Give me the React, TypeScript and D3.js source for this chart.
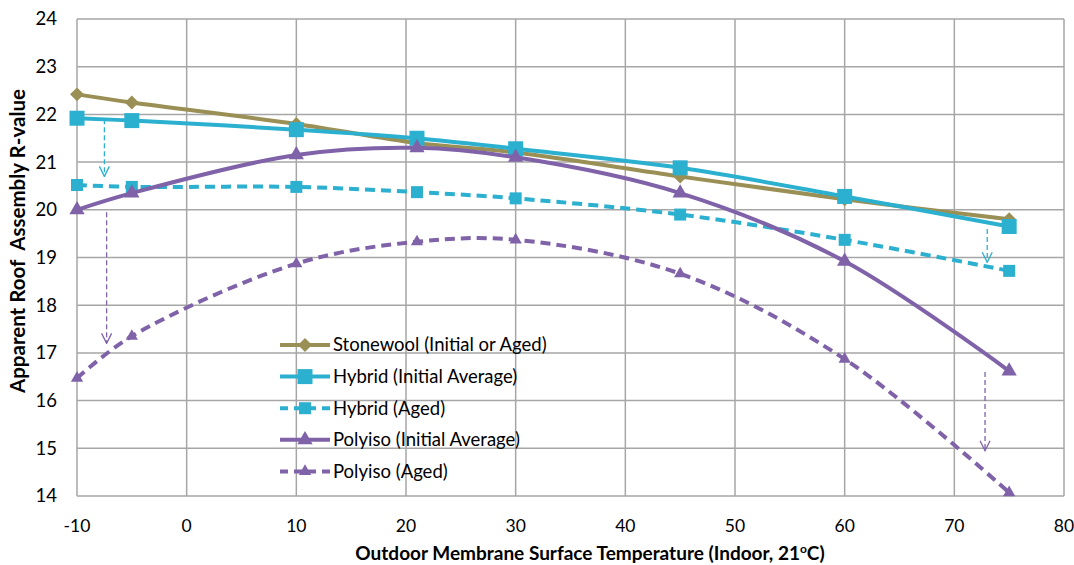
import React from 'react';
import * as d3 from 'd3';

// outdoor membrane surface temperature, deg C
const temps = [-10, -5, 10, 21, 30, 45, 60, 75];

const stonewool = [22.42, 22.25, 21.8, 21.4, 21.2, 20.7, 20.22, 19.8];
const hybridInitial = [21.92, 21.87, 21.68, 21.5, 21.28, 20.88, 20.28, 19.65];
const hybridAged = [20.52, 20.48, 20.48, 20.37, 20.24, 19.9, 19.37, 18.72];
const polyisoInitial = [20.0, 20.35, 21.15, 21.3, 21.1, 20.35, 18.92, 16.62];
const polyisoAged = [16.47, 17.35, 18.87, 19.33, 19.37, 18.66, 16.87, 14.07];

const xTicks = [-10, 0, 10, 20, 30, 40, 50, 60, 70, 80];
const yTicks = [14, 15, 16, 17, 18, 19, 20, 21, 22, 23, 24];

// aging arrows: [x, yFrom, yTo, colour]
const arrows: [number, number, number, string][] = [
  [-7.5, 21.9, 20.7, '#2CB0CF'],
  [-7.3, 19.95, 17.2, '#7F62A8'],
  [73, 19.6, 18.9, '#2CB0CF'],
  [72.8, 16.6, 14.95, '#7F62A8'],
];

const OLIVE = '#9A8F55';
const TEAL = '#2CB0CF';
const PURPLE = '#7F62A8';

const series = [
  { name: 'Stonewool (Initial or Aged)', values: stonewool, color: OLIVE, dashed: false, marker: 'diamond' },
  { name: 'Hybrid (Initial Average)', values: hybridInitial, color: TEAL, dashed: false, marker: 'square' },
  { name: 'Hybrid (Aged)', values: hybridAged, color: TEAL, dashed: true, marker: 'square' },
  { name: 'Polyiso (Initial Average)', values: polyisoInitial, color: PURPLE, dashed: false, marker: 'triangle' },
  { name: 'Polyiso (Aged)', values: polyisoAged, color: PURPLE, dashed: true, marker: 'triangle' },
];

const font = 'Lato, "Open Sans", sans-serif';

function Marker({ type, x, y, size, color }: { type: string; x: number; y: number; size: number; color: string }) {
  const symType = type === 'diamond' ? d3.symbolDiamond2 : type === 'square' ? d3.symbolSquare : d3.symbolTriangle;
  const area = type === 'diamond' ? size * size * 0.55 : type === 'triangle' ? size * size * 0.45 : size * size;
  const p = d3.symbol().type(symType).size(area)();
  return <path d={p || ''} transform={`translate(${x},${y})`} fill={color} />;
}

const App = () => {
  const W = 1074;
  const H = 565;
  const x = d3.scaleLinear().domain([-10, 80]).range([77, 1064]);
  const y = d3.scaleLinear().domain([14, 24]).range([496, 19]);

  const line = d3
    .line<number>()
    .x((_, i) => x(temps[i]))
    .y((d) => y(d))
    .curve(d3.curveCatmullRom.alpha(0.5));

  const legendX = 280;
  const legendY = 345;
  const legendStep = 31.6;

  return (
    <svg width={W} height={H} style={{ position: 'absolute', left: 0, top: 0, background: '#fff' }}>
      <defs>
        {[['headTeal', TEAL], ['headPurple', PURPLE]].map(([id, c]) => (
          <marker key={id} id={id} viewBox="0 0 12 12" refX="11" refY="6" markerWidth="12" markerHeight="12" markerUnits="userSpaceOnUse" orient="auto">
            <path d="M1,1 L11,6 L1,11" fill="none" stroke={c} strokeWidth={1.3} />
          </marker>
        ))}
      </defs>

      {/* grid */}
      {yTicks.map((t) => (
        <line key={'gy' + t} x1={x(-10)} x2={x(80)} y1={y(t)} y2={y(t)} stroke="#A6A6A6" strokeWidth={1.5} />
      ))}
      {xTicks.map((t) => (
        <line key={'gx' + t} x1={x(t)} x2={x(t)} y1={y(24)} y2={y(14)} stroke="#A6A6A6" strokeWidth={1.5} />
      ))}

      {/* tick labels */}
      {yTicks.map((t) => (
        <text key={'ty' + t} x={57} y={y(t)} dy="0.35em" textAnchor="end" fontFamily={font} fontSize={18.5} fill="#000">
          {t}
        </text>
      ))}
      {xTicks.map((t) => (
        <text key={'tx' + t} x={x(t)} y={526} dy="0.35em" textAnchor="middle" fontFamily={font} fontSize={17.5} fill="#000">
          {t}
        </text>
      ))}

      {/* axis titles */}
      <text x={590} y={553} dy="0.35em" textAnchor="middle" fontFamily={font} fontSize={19} fontWeight="bold" fill="#000">
        Outdoor Membrane Surface Temperature (Indoor, 21
        <tspan dy="-7" fontSize={12}>o</tspan>
        <tspan dy="7">C)</tspan>
      </text>
      <text
        transform={`translate(18,241) rotate(-90)`}
        dy="0.35em"
        textAnchor="middle"
        fontFamily={font}
        fontSize={20.5}
        fontWeight="bold"
        fill="#000"
        style={{ whiteSpace: 'pre' }}
      >
        {'Apparent Roof  Assembly R-value'}
      </text>

      {/* arrows */}
      {arrows.map(([ax, y0, y1, c], i) => (
        <line
          key={'ar' + i}
          x1={x(ax)}
          x2={x(ax)}
          y1={y(y0)}
          y2={y(y1)}
          stroke={c}
          strokeWidth={1.3}
          strokeDasharray="5,3"
          markerEnd={`url(#${c === TEAL ? 'headTeal' : 'headPurple'})`}
        />
      ))}

      {/* series */}
      {series.map((s) => (
        <g key={s.name}>
          <path
            d={line(s.values) || ''}
            fill="none"
            stroke={s.color}
            strokeWidth={4}
            strokeDasharray={s.dashed ? '10,6' : undefined}
          />
          {s.values.map((v, i) => (
            <Marker key={i} type={s.marker} x={x(temps[i])} y={y(v)} size={s.dashed ? 12 : 15} color={s.color} />
          ))}
        </g>
      ))}

      {/* legend */}
      {series.map((s, i) => {
        const ly = legendY + i * legendStep;
        return (
          <g key={'lg' + i}>
            <line
              x1={legendX}
              x2={legendX + 50}
              y1={ly}
              y2={ly}
              stroke={s.color}
              strokeWidth={4}
              strokeDasharray={s.dashed ? '8,6' : undefined}
            />
            <Marker type={s.marker} x={legendX + 25} y={ly} size={s.dashed ? 12 : 15} color={s.color} />
            <text x={legendX + 53} y={ly} dy="0.35em" fontFamily={font} fontSize={18.5} fill="#000">
              {s.name}
            </text>
          </g>
        );
      })}
    </svg>
  );
};

export default App;
